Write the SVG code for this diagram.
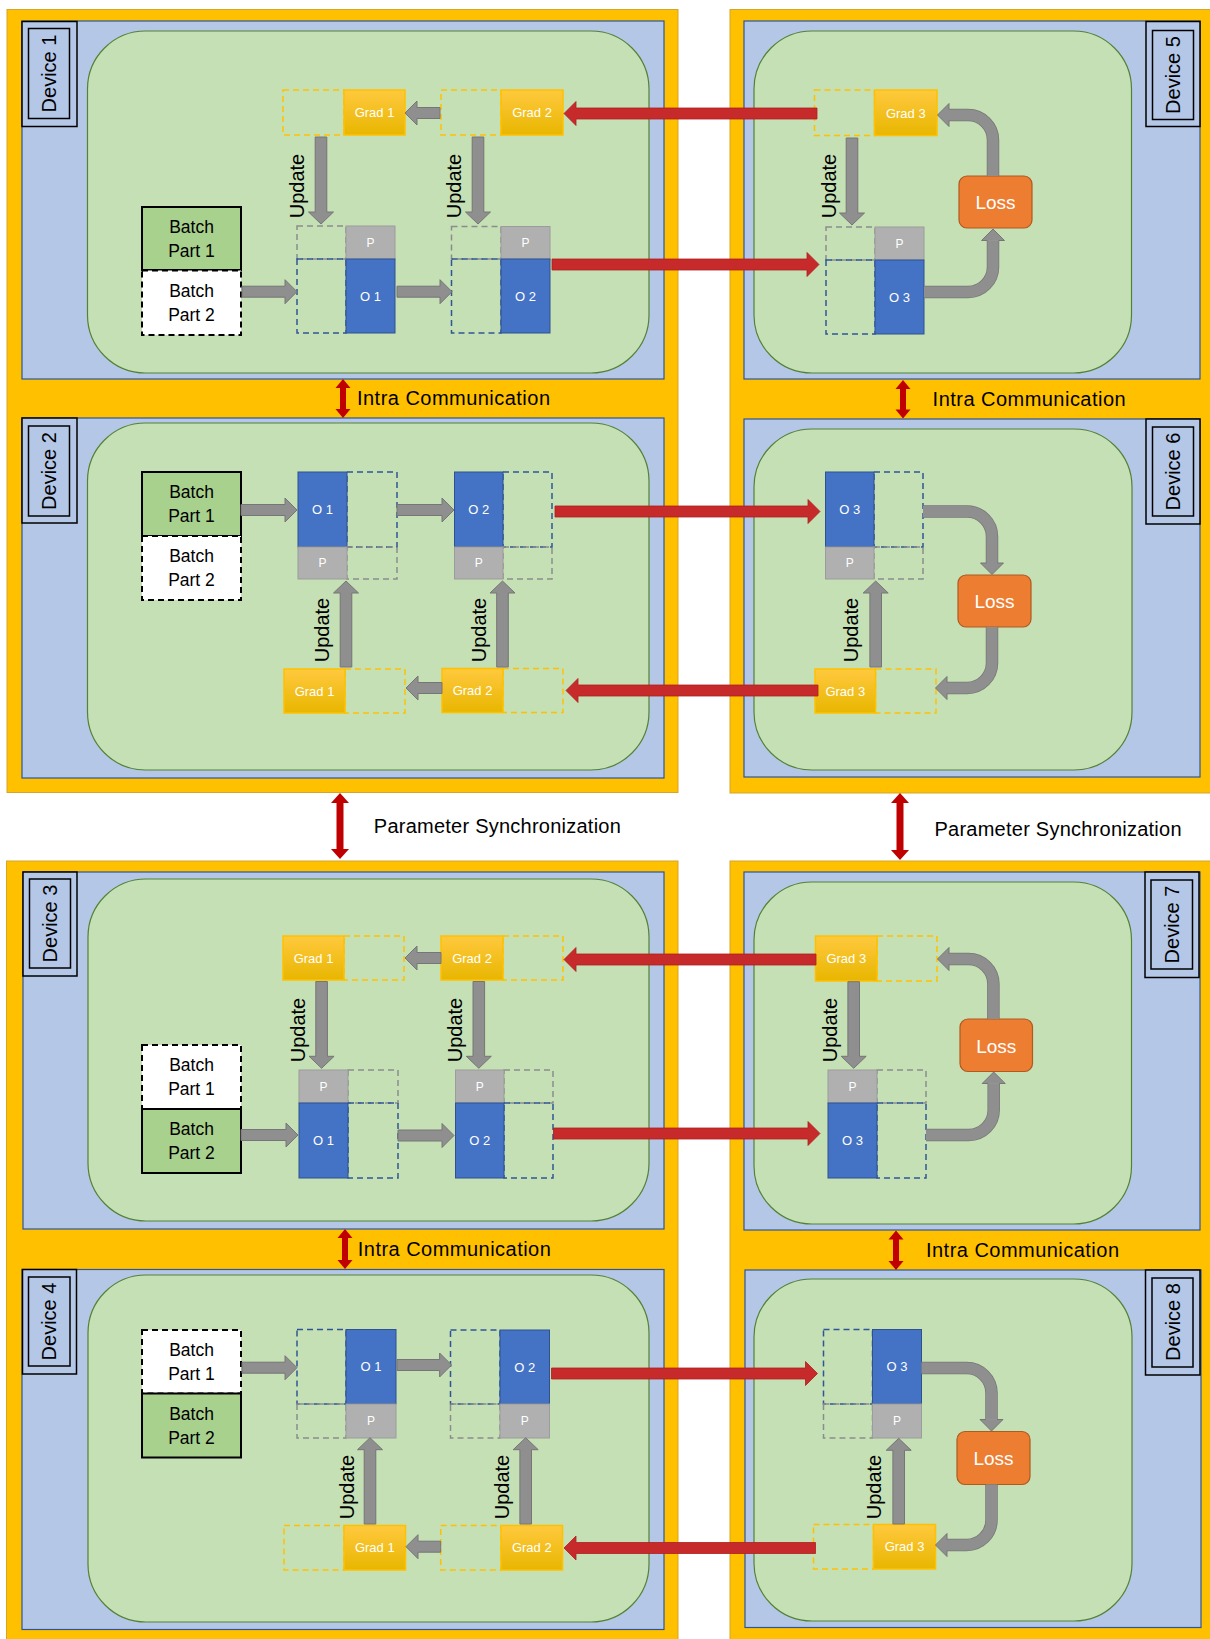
<svg xmlns="http://www.w3.org/2000/svg" width="1210" height="1639" viewBox="0 0 1210 1639">
<defs>
<linearGradient id="gg" x1="0" y1="0" x2="0" y2="1">
<stop offset="0" stop-color="#FFC93E"/>
<stop offset="1" stop-color="#E8B600"/>
</linearGradient>
<style>
.orange{fill:#FFC000;stroke:#D4A52A;stroke-width:1}
.dev{fill:#B4C7E7;stroke:#2F5597;stroke-width:1.2}
.grn{fill:#C5E0B4;stroke:#548235;stroke-width:1.2}
.lbl{fill:#B4C7E7;stroke:#000;stroke-width:1.5}
.gf{fill:url(#gg);stroke:#FFC000;stroke-width:1.5}
.gd{fill:none;stroke:#FFC000;stroke-width:1.5;stroke-dasharray:6 4}
.of{fill:#4472C4;stroke:#2F528F;stroke-width:1}
.od{fill:none;stroke:#2F5597;stroke-width:1.5;stroke-dasharray:6 4}
.pf{fill:#B0B0B0;stroke:#9C9C9C;stroke-width:1}
.pd{fill:none;stroke:#8C8C8C;stroke-width:1.5;stroke-dasharray:6 4}
.bg{fill:#A9D18E;stroke:#000;stroke-width:2}
.bw{fill:#fff;stroke:#000;stroke-width:2;stroke-dasharray:6 4}
.loss{fill:#ED7D31;stroke:#AE5A21;stroke-width:1.2}
.ga{fill:#8F8F8F;stroke:#767676;stroke-width:1}
.cs1{fill:none;stroke:#767676;stroke-width:12.5}
.cs2{fill:none;stroke:#8F8F8F;stroke-width:11}
.ra{fill:#C72A2A;stroke:#B01E1E;stroke-width:0.8}
.ia{fill:#C00000}
text{font-family:"Liberation Sans",Arial,sans-serif}
.tw{fill:#fff;font-size:13px;text-anchor:middle}
.tp{fill:#fff;font-size:12px;text-anchor:middle}
.tb{fill:#000;font-size:17.5px;text-anchor:middle}
.tl{fill:#fff;font-size:19px;text-anchor:middle}
.tdev{fill:#000;font-size:20px;text-anchor:middle}
.tup{fill:#000;font-size:20px;text-anchor:middle}
.tc{fill:#000;font-size:20px}
</style>
</defs>

<g id="backgrounds">
<rect class="orange" x="7" y="9.5" width="671" height="783"/>
<rect class="orange" x="730" y="9.5" width="490" height="783.5"/>
<rect class="orange" x="6.5" y="861" width="671.5" height="790"/>
<rect class="orange" x="730" y="861" width="490" height="790"/>
</g>

<g id="device1">
<rect class="dev" x="22" y="21" width="642" height="358"/>
<rect class="grn" x="87.5" y="31" width="561.5" height="342" rx="58"/>
<rect class="lbl" x="22" y="21.5" width="55" height="105"/>
<rect class="lbl" x="28.5" y="28.5" width="41" height="90"/>
<text class="tdev" transform="translate(49,73.5) rotate(-90)" x="0" y="7">Device 1</text>
<g id="d1-batch1"><rect class="bg" x="142" y="207" width="99" height="63"/><text class="tb" x="191.5" y="232.5">Batch</text><text class="tb" x="191.5" y="256.5">Part 1</text></g>
<g id="d1-batch2"><rect class="bw" x="142" y="270.5" width="99" height="64.5"/><text class="tb" x="191.5" y="296.75">Batch</text><text class="tb" x="191.5" y="320.75">Part 2</text></g>
<g id="d1-grad1"><rect class="gd" x="283" y="90" width="61" height="45"/><rect class="gf" x="344" y="90" width="61" height="45"/><text class="tw" x="374.5" y="117">Grad 1</text></g>
<g id="d1-grad2"><rect class="gd" x="441" y="90" width="60" height="45"/><rect class="gf" x="501" y="90" width="62" height="45"/><text class="tw" x="532" y="117">Grad 2</text></g>
<g id="d1-p1"><rect class="pd" x="297" y="226" width="49" height="33"/><rect class="pf" x="346" y="226" width="49" height="33"/><text class="tp" x="370.5" y="246.7">P</text></g>
<g id="d1-o1"><rect class="od" x="297" y="259" width="49" height="74"/><rect class="of" x="346" y="259" width="49" height="74"/><text class="tw" x="370.5" y="300.5">O 1</text></g>
<g id="d1-p2"><rect class="pd" x="451.5" y="226.5" width="49.5" height="32.5"/><rect class="pf" x="501" y="226.5" width="49" height="32.5"/><text class="tp" x="525.5" y="247">P</text></g>
<g id="d1-o2"><rect class="od" x="451.5" y="259" width="49.5" height="74"/><rect class="of" x="501" y="259" width="49" height="74"/><text class="tw" x="525.5" y="300.5">O 2</text></g>
</g>

<g id="device5">
<rect class="dev" x="744" y="21" width="456" height="358"/>
<rect class="grn" x="754" y="31" width="377.5" height="342" rx="58"/>
<rect class="lbl" x="1146" y="21.5" width="54" height="105"/>
<rect class="lbl" x="1152.5" y="30.5" width="41" height="89"/>
<text class="tdev" transform="translate(1173,75) rotate(-90)" x="0" y="7">Device 5</text>
<g id="d5-grad3"><rect class="gd" x="814.5" y="90" width="60" height="45.5"/><rect class="gf" x="874.5" y="90" width="62.5" height="45.5"/><text class="tw" x="905.75" y="117.5">Grad 3</text></g>
<g id="d5-p3"><rect class="pd" x="826" y="227" width="49" height="33"/><rect class="pf" x="875" y="227" width="49" height="33"/><text class="tp" x="899.5" y="247.5">P</text></g>
<g id="d5-o3"><rect class="od" x="826" y="260" width="49" height="74"/><rect class="of" x="875" y="260" width="49" height="74"/><text class="tw" x="899.5" y="301.5">O 3</text></g>
<g id="d5-loss"><rect class="loss" x="959" y="176" width="73" height="52" rx="8"/><text class="tl" x="995.5" y="209">Loss</text></g>
</g>

<g id="device2">
<rect class="dev" x="22" y="418" width="642" height="360"/>
<rect class="grn" x="87.5" y="423" width="561.5" height="347" rx="58"/>
<rect class="lbl" x="22" y="418" width="55" height="105"/>
<rect class="lbl" x="28.5" y="426" width="41" height="90"/>
<text class="tdev" transform="translate(49,471) rotate(-90)" x="0" y="7">Device 2</text>
<g id="d2-batch1"><rect class="bg" x="142" y="472" width="99" height="64"/><text class="tb" x="191.5" y="498">Batch</text><text class="tb" x="191.5" y="522">Part 1</text></g>
<g id="d2-batch2"><rect class="bw" x="142" y="536" width="99" height="64"/><text class="tb" x="191.5" y="562">Batch</text><text class="tb" x="191.5" y="586">Part 2</text></g>
<g id="d2-o1"><rect class="od" x="347" y="472" width="50" height="75"/><rect class="of" x="298" y="472" width="49" height="75"/><text class="tw" x="322.5" y="514">O 1</text></g>
<g id="d2-p1"><rect class="pd" x="347" y="547" width="50" height="32"/><rect class="pf" x="298" y="547" width="49" height="32"/><text class="tp" x="322.5" y="567">P</text></g>
<g id="d2-o2"><rect class="od" x="503" y="472" width="49" height="75"/><rect class="of" x="454.5" y="472" width="48.5" height="75"/><text class="tw" x="478.75" y="514">O 2</text></g>
<g id="d2-p2"><rect class="pd" x="503" y="547" width="49" height="32"/><rect class="pf" x="454.5" y="547" width="48.5" height="32"/><text class="tp" x="478.75" y="567">P</text></g>
<g id="d2-grad1"><rect class="gd" x="345" y="669" width="60" height="44"/><rect class="gf" x="284" y="669" width="61" height="44"/><text class="tw" x="314.5" y="695.5">Grad 1</text></g>
<g id="d2-grad2"><rect class="gd" x="503" y="668.5" width="60" height="44"/><rect class="gf" x="442" y="668.5" width="61" height="44"/><text class="tw" x="472.5" y="695">Grad 2</text></g>
</g>

<g id="device6">
<rect class="dev" x="744" y="419" width="456" height="358"/>
<rect class="grn" x="754" y="429" width="378" height="341" rx="58"/>
<rect class="lbl" x="1146" y="419" width="54" height="105"/>
<rect class="lbl" x="1152.5" y="427" width="41" height="89"/>
<text class="tdev" transform="translate(1173,471.5) rotate(-90)" x="0" y="7">Device 6</text>
<g id="d6-o3"><rect class="od" x="874" y="472" width="49" height="75"/><rect class="of" x="825.5" y="472" width="48.5" height="75"/><text class="tw" x="849.75" y="514">O 3</text></g>
<g id="d6-p3"><rect class="pd" x="874" y="547" width="49" height="32"/><rect class="pf" x="825.5" y="547" width="48.5" height="32"/><text class="tp" x="849.75" y="567">P</text></g>
<g id="d6-loss"><rect class="loss" x="958" y="575" width="73" height="52" rx="8"/><text class="tl" x="994.5" y="608">Loss</text></g>
<g id="d6-grad3"><rect class="gd" x="875.5" y="669" width="60.5" height="44"/><rect class="gf" x="815" y="669" width="60.5" height="44"/><text class="tw" x="845.25" y="695.5">Grad 3</text></g>
</g>

<g id="device3">
<rect class="dev" x="23" y="872" width="641" height="357"/>
<rect class="grn" x="88" y="879" width="561" height="342" rx="58"/>
<rect class="lbl" x="23" y="872" width="54" height="104"/>
<rect class="lbl" x="29.5" y="879" width="41" height="89"/>
<text class="tdev" transform="translate(50,923.5) rotate(-90)" x="0" y="7">Device 3</text>
<g id="d3-grad1"><rect class="gd" x="344" y="936" width="60" height="44"/><rect class="gf" x="283" y="936" width="61" height="44"/><text class="tw" x="313.5" y="962.5">Grad 1</text></g>
<g id="d3-grad2"><rect class="gd" x="503" y="936" width="60" height="44"/><rect class="gf" x="441" y="936" width="62" height="44"/><text class="tw" x="472" y="962.5">Grad 2</text></g>
<g id="d3-p1"><rect class="pd" x="348" y="1070" width="50" height="33"/><rect class="pf" x="299" y="1070" width="49" height="33"/><text class="tp" x="323.5" y="1091">P</text></g>
<g id="d3-o1"><rect class="od" x="348" y="1103" width="50" height="75"/><rect class="of" x="299" y="1103" width="49" height="75"/><text class="tw" x="323.5" y="1145">O 1</text></g>
<g id="d3-p2"><rect class="pd" x="504" y="1070" width="49" height="33"/><rect class="pf" x="455.5" y="1070" width="48.5" height="33"/><text class="tp" x="479.75" y="1091">P</text></g>
<g id="d3-o2"><rect class="od" x="504" y="1103" width="49" height="75"/><rect class="of" x="455.5" y="1103" width="48.5" height="75"/><text class="tw" x="479.75" y="1145">O 2</text></g>
<g id="d3-batch1"><rect class="bw" x="142" y="1045" width="99" height="64"/><text class="tb" x="191.5" y="1071">Batch</text><text class="tb" x="191.5" y="1095">Part 1</text></g>
<g id="d3-batch2"><rect class="bg" x="142" y="1109" width="99" height="64"/><text class="tb" x="191.5" y="1135">Batch</text><text class="tb" x="191.5" y="1159">Part 2</text></g>
</g>

<g id="device7">
<rect class="dev" x="744" y="872" width="456" height="358"/>
<rect class="grn" x="754" y="882" width="377.5" height="342" rx="58"/>
<rect class="lbl" x="1145" y="872" width="54" height="105.5"/>
<rect class="lbl" x="1151" y="880" width="41.5" height="89"/>
<text class="tdev" transform="translate(1172,924.5) rotate(-90)" x="0" y="7">Device 7</text>
<g id="d7-grad3"><rect class="gd" x="877" y="936" width="60" height="45"/><rect class="gf" x="815.5" y="936" width="61.5" height="45"/><text class="tw" x="846.25" y="963">Grad 3</text></g>
<g id="d7-loss"><rect class="loss" x="960" y="1019" width="72.5" height="52.5" rx="8"/><text class="tl" x="996.25" y="1052.5">Loss</text></g>
<g id="d7-p3"><rect class="pd" x="877" y="1070" width="49" height="33"/><rect class="pf" x="828" y="1070" width="49" height="33"/><text class="tp" x="852.5" y="1091">P</text></g>
<g id="d7-o3"><rect class="od" x="877" y="1103" width="49" height="75"/><rect class="of" x="828" y="1103" width="49" height="75"/><text class="tw" x="852.5" y="1145">O 3</text></g>
</g>

<g id="device4">
<rect class="dev" x="22" y="1269.5" width="642" height="360"/>
<rect class="grn" x="88" y="1275" width="561" height="347" rx="58"/>
<rect class="lbl" x="22.5" y="1269.5" width="54" height="104.5"/>
<rect class="lbl" x="28.5" y="1277" width="41.5" height="89"/>
<text class="tdev" transform="translate(49.3,1321.5) rotate(-90)" x="0" y="7">Device 4</text>
<g id="d4-batch1"><rect class="bw" x="142" y="1330" width="99" height="63.5"/><text class="tb" x="191.5" y="1355.75">Batch</text><text class="tb" x="191.5" y="1379.75">Part 1</text></g>
<g id="d4-batch2"><rect class="bg" x="142" y="1393.5" width="99" height="64"/><text class="tb" x="191.5" y="1419.5">Batch</text><text class="tb" x="191.5" y="1443.5">Part 2</text></g>
<g id="d4-o1"><rect class="od" x="297" y="1329.5" width="49" height="74.5"/><rect class="of" x="346" y="1329.5" width="50" height="74.5"/><text class="tw" x="371" y="1371.25">O 1</text></g>
<g id="d4-p1"><rect class="pd" x="297" y="1404" width="49" height="34"/><rect class="pf" x="346" y="1404" width="50" height="34"/><text class="tp" x="371" y="1425.2">P</text></g>
<g id="d4-o2"><rect class="od" x="450.5" y="1330" width="49.5" height="74"/><rect class="of" x="500" y="1330" width="49.5" height="74"/><text class="tw" x="524.75" y="1371.5">O 2</text></g>
<g id="d4-p2"><rect class="pd" x="450.5" y="1404" width="49.5" height="34"/><rect class="pf" x="500" y="1404" width="49.5" height="34"/><text class="tp" x="524.75" y="1425.2">P</text></g>
<g id="d4-grad1"><rect class="gd" x="284" y="1525.5" width="60" height="44.5"/><rect class="gf" x="344" y="1525.5" width="61.5" height="44.5"/><text class="tw" x="374.75" y="1552.25">Grad 1</text></g>
<g id="d4-grad2"><rect class="gd" x="440.7" y="1525.5" width="60.3" height="44.5"/><rect class="gf" x="501" y="1525.5" width="61.5" height="44.5"/><text class="tw" x="531.75" y="1552.25">Grad 2</text></g>
</g>

<g id="device8">
<rect class="dev" x="745" y="1270" width="456" height="357.5"/>
<rect class="grn" x="754" y="1279" width="378" height="342" rx="58"/>
<rect class="lbl" x="1145.5" y="1270" width="54.5" height="105"/>
<rect class="lbl" x="1152" y="1278" width="41" height="89"/>
<text class="tdev" transform="translate(1172.5,1322) rotate(-90)" x="0" y="7">Device 8</text>
<g id="d8-o3"><rect class="od" x="823.5" y="1329.5" width="49" height="74.5"/><rect class="of" x="872.5" y="1329.5" width="49" height="74.5"/><text class="tw" x="897" y="1371.25">O 3</text></g>
<g id="d8-p3"><rect class="pd" x="823.5" y="1404" width="49" height="34"/><rect class="pf" x="872.5" y="1404" width="49" height="34"/><text class="tp" x="897" y="1425.2">P</text></g>
<g id="d8-loss"><rect class="loss" x="957" y="1431.5" width="73" height="53" rx="8"/><text class="tl" x="993.5" y="1465">Loss</text></g>
<g id="d8-grad3"><rect class="gd" x="813.5" y="1524.5" width="60" height="44.5"/><rect class="gf" x="873.5" y="1524.5" width="62" height="44.5"/><text class="tw" x="904.5" y="1551.25">Grad 3</text></g>
</g>

<g id="connectors">
<!-- gray straight arrows -->
<polygon class="ga" points="242,286.2 285,286.2 285,279.7 297,291.7 285,303.7 285,297.2 242,297.2"/>
<polygon class="ga" points="397,286.2 440,286.2 440,279.7 452,291.7 440,303.7 440,297.2 397,297.2"/>
<polygon class="ga" points="440,107.5 417,107.5 417,101 405,113 417,125 417,118.5 440,118.5"/>
<polygon class="ga" points="315.2,137 315.2,212 308.5,212 321,224 333.5,212 326.8,212 326.8,137"/>
<polygon class="ga" points="472.2,137 472.2,212 465.5,212 478,224 490.5,212 483.8,212 483.8,137"/>
<polygon class="ga" points="846.2,138 846.2,213 839.5,213 852,225 864.5,213 857.8,213 857.8,138"/>

<polygon class="ga" points="241,504.5 285,504.5 285,498 297,510 285,522 285,515.5 241,515.5"/>
<polygon class="ga" points="397,504.5 442,504.5 442,498 454,510 442,522 442,515.5 397,515.5"/>
<polygon class="ga" points="442,682.5 418,682.5 418,676 406,688 418,700 418,693.5 442,693.5"/>
<polygon class="ga" points="340.2,667 340.2,593 333.5,593 346,581 358.5,593 351.8,593 351.8,667"/>
<polygon class="ga" points="496.7,667 496.7,593 490,593 502.5,581 515,593 508.3,593 508.3,667"/>
<polygon class="ga" points="869.9,667 869.9,593 863.2,593 875.7,581 888.2,593 881.5,593 881.5,667"/>

<polygon class="ga" points="441,952.5 417,952.5 417,946 405,958 417,970 417,963.5 441,963.5"/>
<polygon class="ga" points="315.8,981.5 315.8,1056.3 309.1,1056.3 321.6,1068.3 334.1,1056.3 327.4,1056.3 327.4,981.5"/>
<polygon class="ga" points="473,981.5 473,1056.3 466.3,1056.3 478.8,1068.3 491.3,1056.3 484.6,1056.3 484.6,981.5"/>
<polygon class="ga" points="241,1129.5 286,1129.5 286,1123 298,1135 286,1147 286,1140.5 241,1140.5"/>
<polygon class="ga" points="398,1130 442,1130 442,1123.5 454,1135.5 442,1147.5 442,1141 398,1141"/>
<polygon class="ga" points="847.9,981.7 847.9,1056.3 841.2,1056.3 853.7,1068.3 866.2,1056.3 859.5,1056.3 859.5,981.7"/>

<polygon class="ga" points="242,1362.2 285,1362.2 285,1355.7 297,1367.7 285,1379.7 285,1373.2 242,1373.2"/>
<polygon class="ga" points="397,1359.5 439.6,1359.5 439.6,1353 451.6,1365 439.6,1377 439.6,1370.5 397,1370.5"/>
<polygon class="ga" points="440.7,1541.2 418,1541.2 418,1534.7 406,1546.7 418,1558.7 418,1552.2 440.7,1552.2"/>
<polygon class="ga" points="364.2,1524 364.2,1449.7 357.5,1449.7 370,1437.7 382.5,1449.7 375.8,1449.7 375.8,1524"/>
<polygon class="ga" points="519.9,1524 519.9,1449.7 513.2,1449.7 525.7,1437.7 538.2,1449.7 531.5,1449.7 531.5,1524"/>
<polygon class="ga" points="892.9,1524 892.9,1450.3 886.2,1450.3 898.7,1438.3 911.2,1450.3 904.5,1450.3 904.5,1524"/>

<!-- curved gray arrows -->
<path class="cs1" d="M924,292 H968 A25,25 0 0 0 993,267 V240.5"/>
<path class="cs2" d="M924,292 H968 A25,25 0 0 0 993,267 V240.5"/>
<path class="ga" d="M987.5,240.5 L981.5,240.5 L993,229 L1004.5,240.5 L998.5,240.5"/>
<path class="cs1" d="M993,176 V140 A25,25 0 0 0 968,115 H949"/>
<path class="cs2" d="M993,176 V140 A25,25 0 0 0 968,115 H949"/>
<path class="ga" d="M949,109.5 L949,103.5 L937.5,115 L949,126.5 L949,120.5"/>

<path class="cs1" d="M923,511.5 H967 A25,25 0 0 1 992,536.5 V563"/>
<path class="cs2" d="M923,511.5 H967 A25,25 0 0 1 992,536.5 V563"/>
<path class="ga" d="M986.5,563 L980.5,563 L992,574.5 L1003.5,563 L997.5,563"/>
<path class="cs1" d="M992,627 V663 A25,25 0 0 1 967,688 H947"/>
<path class="cs2" d="M992,627 V663 A25,25 0 0 1 967,688 H947"/>
<path class="ga" d="M947,682.5 L947,676.5 L935.5,688 L947,699.5 L947,693.5"/>

<path class="cs1" d="M926,1135 H968.7 A25,25 0 0 0 993.7,1110 V1083.5"/>
<path class="cs2" d="M926,1135 H968.7 A25,25 0 0 0 993.7,1110 V1083.5"/>
<path class="ga" d="M988.2,1083.5 L982.2,1083.5 L993.7,1072 L1005.2,1083.5 L999.2,1083.5"/>
<path class="cs1" d="M993.4,1019 V984 A25,25 0 0 0 968.4,959 H949"/>
<path class="cs2" d="M993.4,1019 V984 A25,25 0 0 0 968.4,959 H949"/>
<path class="ga" d="M949,953.5 L949,947.5 L937.5,959 L949,970.5 L949,964.5"/>

<path class="cs1" d="M921.5,1368 H966.5 A25,25 0 0 1 991.5,1393 V1419.5"/>
<path class="cs2" d="M921.5,1368 H966.5 A25,25 0 0 1 991.5,1393 V1419.5"/>
<path class="ga" d="M986,1419.5 L980,1419.5 L991.5,1431 L1003,1419.5 L997,1419.5"/>
<path class="cs1" d="M991.5,1484.5 V1520 A25,25 0 0 1 966.5,1545 H947"/>
<path class="cs2" d="M991.5,1484.5 V1520 A25,25 0 0 1 966.5,1545 H947"/>
<path class="ga" d="M947,1539.5 L947,1533.5 L935.5,1545 L947,1556.5 L947,1550.5"/>

<!-- red transfer arrows -->
<polygon class="ra" points="817,108 576,108 576,101.5 564,113.5 576,125.5 576,119 817,119"/>
<polygon class="ra" points="552,259 807,259 807,252.5 819,264.5 807,276.5 807,270 552,270"/>
<polygon class="ra" points="555,506 808,506 808,499.5 820,511.5 808,523.5 808,517 555,517"/>
<polygon class="ra" points="818,685 578,685 578,678.5 566,690.5 578,702.5 578,696 818,696"/>
<polygon class="ra" points="816,954 576,954 576,947.5 564,959.5 576,971.5 576,965 816,965"/>
<polygon class="ra" points="553.5,1128 808,1128 808,1121.5 820,1133.5 808,1145.5 808,1139 553.5,1139"/>
<polygon class="ra" points="551.5,1368 805.5,1368 805.5,1361.5 817.5,1373.5 805.5,1385.5 805.5,1379 551.5,1379"/>
<polygon class="ra" points="815.5,1542.5 576,1542.5 576,1536 564,1548 576,1560 576,1553.5 815.5,1553.5"/>

<!-- intra / parameter sync arrows -->
<polygon class="ia" points="343,379 350.5,388 346,388 346,409 350.5,409 343,418 335.5,409 340,409 340,388 335.5,388"/>
<polygon class="ia" points="903,380 910.5,389 906,389 906,409.5 910.5,409.5 903,418.5 895.5,409.5 900,409.5 900,389 895.5,389"/>
<polygon class="ia" points="345,1229 352.5,1238 348,1238 348,1260 352.5,1260 345,1269 337.5,1260 342,1260 342,1238 337.5,1238"/>
<polygon class="ia" points="896,1230.5 903.5,1239.5 899,1239.5 899,1261 903.5,1261 896,1270 888.5,1261 893,1261 893,1239.5 888.5,1239.5"/>
<polygon class="ia" points="340,793 349,803 343.5,803 343.5,849 349,849 340,859 331,849 336.5,849 336.5,803 331,803"/>
<polygon class="ia" points="900,793 909,803 903.5,803 903.5,850 909,850 900,860 891,850 896.5,850 896.5,803 891,803"/>

<!-- labels -->
<text class="tc" x="357" y="405" textLength="193">Intra Communication</text>
<text class="tc" x="932.6" y="406" textLength="193">Intra Communication</text>
<text class="tc" x="357.8" y="1256" textLength="193">Intra Communication</text>
<text class="tc" x="926" y="1257.3" textLength="193">Intra Communication</text>
<text class="tc" x="373.8" y="832.7" textLength="247">Parameter Synchronization</text>
<text class="tc" x="934.5" y="836" textLength="247">Parameter Synchronization</text>

<text class="tup" transform="translate(299,186) rotate(-90)" x="0" y="5">Update</text>
<text class="tup" transform="translate(456,186) rotate(-90)" x="0" y="5">Update</text>
<text class="tup" transform="translate(830.5,186) rotate(-90)" x="0" y="5">Update</text>
<text class="tup" transform="translate(324,630) rotate(-90)" x="0" y="5">Update</text>
<text class="tup" transform="translate(480.7,630) rotate(-90)" x="0" y="5">Update</text>
<text class="tup" transform="translate(853,630) rotate(-90)" x="0" y="5">Update</text>
<text class="tup" transform="translate(300,1030) rotate(-90)" x="0" y="5">Update</text>
<text class="tup" transform="translate(456.6,1030) rotate(-90)" x="0" y="5">Update</text>
<text class="tup" transform="translate(831.5,1030) rotate(-90)" x="0" y="5">Update</text>
<text class="tup" transform="translate(348.5,1487) rotate(-90)" x="0" y="5">Update</text>
<text class="tup" transform="translate(504,1487) rotate(-90)" x="0" y="5">Update</text>
<text class="tup" transform="translate(876.4,1487) rotate(-90)" x="0" y="5">Update</text>
</g>
</svg>
